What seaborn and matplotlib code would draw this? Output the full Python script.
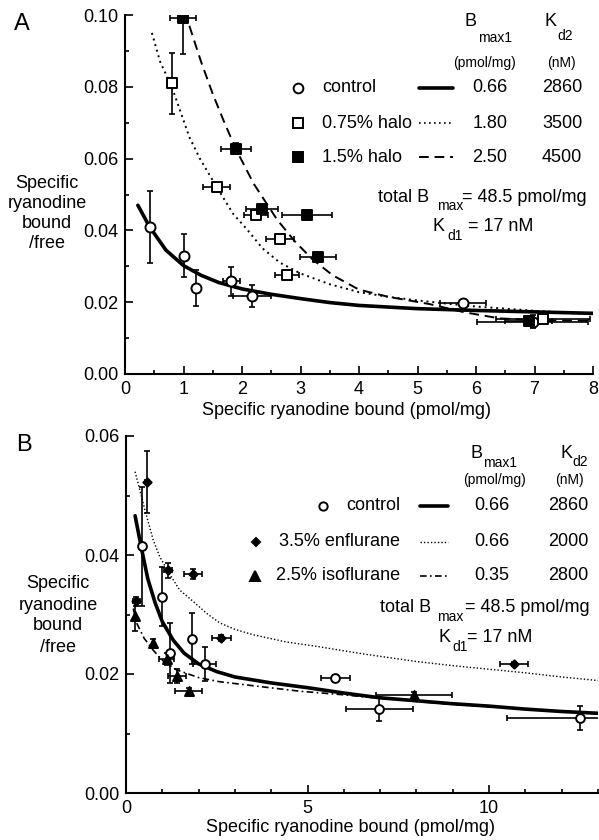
import numpy as np
import pandas as pd
import seaborn as sns
import matplotlib.pyplot as plt
from matplotlib.lines import Line2D
from matplotlib.ticker import MultipleLocator, FormatStrFormatter

# ---- panel A data: points (x, y, x error, y error) ----
ctrl_a_x = [0.42, 1.0, 1.21, 1.82, 2.17, 5.78, 6.97]
ctrl_a_y = [0.041, 0.033, 0.0239, 0.0258, 0.0217, 0.0197, 0.0146]
ctrl_a_xerr = [0, 0, 0, 0.15, 0.33, 0.39, 0.95]
ctrl_a_yerr = [0.010, 0.006, 0.005, 0.004, 0.003, 0.0, 0.0018]

h075_x = [0.80, 1.57, 2.24, 2.65, 2.77, 7.15]
h075_y = [0.081, 0.052, 0.0444, 0.0377, 0.0276, 0.0152]
h075_xerr = [0, 0.23, 0.2, 0.24, 0.2, 0.8]
h075_yerr = [0.0085, 0.0012, 0.001, 0.0008, 0.0006, 0.0006]

h15_x = [0.99, 1.90, 2.34, 3.11, 3.30, 6.90]
h15_y = [0.0992, 0.0628, 0.046, 0.0442, 0.0325, 0.0147]
h15_xerr = [0.22, 0.26, 0.28, 0.43, 0.31, 0.4]
h15_yerr = [0.010, 0.0015, 0.0012, 0.0005, 0.0008, 0.0008]

# ---- panel A fitted curves ----
fit_ctrl_a_x = [0.22, 0.42, 0.7, 1.0, 1.3, 1.6, 2.0, 2.5, 3.0, 3.5, 4.0, 5.0, 6.0, 7.0, 8.0]
fit_ctrl_a_y = [0.047, 0.041, 0.0345, 0.0302, 0.0275, 0.0255, 0.0237, 0.0222, 0.021, 0.0199,
                0.0191, 0.0182, 0.0177, 0.0173, 0.0169]
fit_h075_x = [0.46, 0.6, 0.8, 0.95, 1.1, 1.28, 1.57, 1.85, 2.1, 2.35, 2.65, 3.0, 3.5, 4.0,
              4.5, 5.0, 5.5, 6.0, 7.0, 8.0]
fit_h075_y = [0.095, 0.087, 0.080, 0.073, 0.066, 0.060, 0.052, 0.0446, 0.040, 0.035, 0.031,
              0.028, 0.025, 0.0228, 0.0215, 0.0205, 0.0196, 0.0188, 0.0176, 0.0166]
fit_h15_x = [1.1, 1.3, 1.5, 1.7, 1.9, 2.2, 2.6, 2.9, 3.2, 3.55, 4.0, 4.5, 5.2, 5.8, 6.4, 7.0, 8.0]
fit_h15_y = [0.097, 0.087, 0.078, 0.070, 0.0625, 0.053, 0.043, 0.037, 0.032, 0.0275, 0.0235,
             0.0215, 0.0195, 0.0172, 0.0155, 0.0150, 0.0148]

# ---- panel B data ----
ctrl_b_x = [0.43, 0.99, 1.21, 1.81, 2.17, 5.77, 6.98, 12.5]
ctrl_b_y = [0.0415, 0.033, 0.0235, 0.0259, 0.0217, 0.0194, 0.0141, 0.0126]
ctrl_b_xerr = [0, 0, 0, 0, 0.32, 0.4, 0.92, 2.0]
ctrl_b_yerr = [0.010, 0.005, 0.005, 0.0043, 0.0029, 0.0005, 0.002, 0.002]

enf_x = [0.28, 0.57, 1.16, 1.85, 2.63, 10.69]
enf_y = [0.0322, 0.0523, 0.0374, 0.0368, 0.0261, 0.0217]
enf_xerr = [0.1, 0.05, 0.12, 0.24, 0.25, 0.39]
enf_yerr = [0.0008, 0.0052, 0.0013, 0.0008, 0.0005, 0.0004]

iso_x = [0.25, 0.73, 1.12, 1.41, 1.73, 7.94]
iso_y = [0.0297, 0.0252, 0.0225, 0.0197, 0.0172, 0.0165]
iso_xerr = [0, 0, 0.21, 0.25, 0.37, 1.05]
iso_yerr = [0.0025, 0.0007, 0.001, 0.0012, 0.0005, 0.0004]

fit_ctrl_b_x = [0.25, 0.43, 0.6, 0.8, 1.0, 1.3, 1.6, 2.0, 2.5, 3.0, 4.0, 5.0, 6.0, 7.0, 8.0,
                9.0, 10.0, 11.0, 12.0, 13.0]
fit_ctrl_b_y = [0.0466, 0.041, 0.036, 0.032, 0.0288, 0.0257, 0.0235, 0.0217, 0.0204, 0.0195,
                0.0185, 0.0177, 0.0168, 0.016, 0.0155, 0.015, 0.0146, 0.0141, 0.0137, 0.0134]
fit_enf_x = [0.25, 0.52, 0.75, 0.93, 1.2, 1.48, 1.85, 2.22, 2.58, 3.0, 3.5, 4.4, 5.3, 6.5,
             8.0, 9.0, 10.0, 11.0, 12.0, 13.0]
fit_enf_y = [0.054, 0.0476, 0.0425, 0.0397, 0.0368, 0.0341, 0.0322, 0.0302, 0.0286, 0.0275,
             0.0266, 0.0254, 0.0246, 0.0234, 0.0221, 0.0214, 0.0208, 0.0202, 0.0195, 0.0189]
fit_iso_x = [0.2, 0.29, 0.5, 0.75, 1.0, 1.39, 2.0, 2.58, 3.68, 4.8, 6.0, 7.0, 8.0, 9.0, 10.0,
             11.0, 12.0, 13.0]
fit_iso_y = [0.031, 0.0286, 0.026, 0.024, 0.0223, 0.0207, 0.0194, 0.0187, 0.0179, 0.0171,
             0.0165, 0.0159, 0.0154, 0.0149, 0.0145, 0.0141, 0.0137, 0.0133]

# legend table text
rows_a = ["control", "0.75% halo", "1.5% halo"]
bmax_a = ["0.66", "1.80", "2.50"]
kd2_a = ["2860", "3500", "4500"]
rows_b = ["control", "3.5% enflurane", "2.5% isoflurane"]
bmax_b = ["0.66", "0.66", "0.35"]
kd2_b = ["2860", "2000", "2800"]
ylab_lines = ["Specific", "ryanodine", "bound", "/free"]

sns.set_theme(style="ticks")
plt.rcParams['font.family'] = ['Liberation Sans', 'DejaVu Sans']
plt.rcParams['axes.linewidth'] = 1.5
plt.rcParams['axes.edgecolor'] = 'black'
plt.rcParams['xtick.color'] = 'black'
plt.rcParams['ytick.color'] = 'black'

W, H = 599, 840
fig = plt.figure(figsize=(W / 100, H / 100), dpi=100)


def px(x, y):
    return x / W, 1 - y / H


def label(x, y, s, size=13, ha='center', va='center', **kw):
    fig.text(*px(x, y), s, fontsize=size, ha=ha, va=va, color='black', **kw)


def sample_line(x1, x2, y, **kw):
    fig.add_artist(Line2D([x1 / W, x2 / W], [1 - y / H] * 2, transform=fig.transFigure,
                          color='black', **kw))


def sample_marker(x, y, marker, face, ms):
    fig.add_artist(Line2D([x / W], [1 - y / H], transform=fig.transFigure, marker=marker,
                          ms=ms, mfc=face, mec='black', mew=1.4, ls='none'))


def points(ax, x, y, xerr, yerr, marker, face, size):
    ax.errorbar(x, y, xerr=xerr, yerr=yerr, fmt='none', ecolor='black', elinewidth=1.2,
                capsize=2.5, capthick=1.2, zorder=3)
    sns.scatterplot(x=x, y=y, ax=ax, marker=marker, s=size, color=face, edgecolor='black',
                    linewidth=1.4, zorder=5, legend=False)


def curve(ax, x, y, **kw):
    sns.lineplot(x=x, y=y, ax=ax, color='black', sort=False, estimator=None, zorder=4, **kw)


def style_axes(ax):
    sns.despine(ax=ax)
    ax.tick_params(which='both', direction='in', labelsize=13, width=1.2)
    ax.tick_params(which='major', length=6, pad=5)
    ax.tick_params(which='minor', length=3)
    ax.set_xlabel("")
    ax.set_ylabel("")
    ax.yaxis.set_major_formatter(FormatStrFormatter('%.2f'))


def ylabel_block(xc, y0, pitch=20):
    for i, s in enumerate(ylab_lines):
        label(xc, y0 + i * pitch, s)


# ---------------- panel A ----------------
ax1 = fig.add_axes([125 / W, 1 - 374 / H, (593 - 125) / W, (374 - 15) / H])
curve(ax1, fit_ctrl_a_x, fit_ctrl_a_y, linewidth=2.6)
curve(ax1, fit_h075_x, fit_h075_y, linewidth=1.4, linestyle=(0, (1, 2)))
curve(ax1, fit_h15_x, fit_h15_y, linewidth=1.4, linestyle=(0, (5, 3)))
points(ax1, ctrl_a_x, ctrl_a_y, ctrl_a_xerr, ctrl_a_yerr, 'o', 'white', 52)
points(ax1, h075_x, h075_y, h075_xerr, h075_yerr, 's', 'white', 52)
points(ax1, h15_x, h15_y, h15_xerr, h15_yerr, 's', 'black', 52)
ax1.set_xlim(0, 8)
ax1.set_ylim(0, 0.10)
ax1.xaxis.set_major_locator(MultipleLocator(1))
ax1.xaxis.set_minor_locator(MultipleLocator(0.5))
ax1.yaxis.set_major_locator(MultipleLocator(0.02))
ax1.yaxis.set_minor_locator(MultipleLocator(0.01))
style_axes(ax1)

label(14, 24, "A", size=17, ha='left')
ylabel_block(47, 183)
label(347, 410, "Specific ryanodine bound (pmol/mg)", size=13)

label(465, 21, "B", ha='left')
label(478, 38, "max1", size=10, ha='left')
label(484, 63, "(pmol/mg)", size=10)
label(545, 21, "K", ha='left')
label(557, 36, "d2", size=10, ha='left')
label(561, 63, "(nM)", size=10)
row_y_a = [88, 123, 157]
sample_marker(298, row_y_a[0], 'o', 'white', 7)
sample_marker(298, row_y_a[1], 's', 'white', 7)
sample_marker(298, row_y_a[2], 's', 'black', 7)
sample_line(419, 453, row_y_a[0], lw=2.6)
sample_line(419, 453, row_y_a[1], lw=1.2, ls=(0, (1, 2)))
sample_line(419, 453, row_y_a[2], lw=1.4, ls=(0, (5, 3)))
for yy, name, b, k in zip(row_y_a, rows_a, bmax_a, kd2_a):
    label(322, yy, name, ha='left')
    label(490, yy, b)
    label(562, yy, k)
label(378, 197, "total B", ha='left')
label(437, 206, "max", size=10, ha='left')
label(587, 197, "= 48.5 pmol/mg", ha='right')
label(433, 227, "K", ha='left')
label(447, 236, "d1", size=10, ha='left')
label(533, 227, "= 17 nM", ha='right')

# ---------------- panel B ----------------
ax2 = fig.add_axes([126 / W, 1 - 793 / H, (598 - 126) / W, (793 - 436) / H])
curve(ax2, fit_ctrl_b_x, fit_ctrl_b_y, linewidth=2.6)
curve(ax2, fit_enf_x, fit_enf_y, linewidth=1.0, linestyle=(0, (1, 1.5)))
curve(ax2, fit_iso_x, fit_iso_y, linewidth=1.2, linestyle=(0, (4, 2, 1, 2)))
points(ax2, ctrl_b_x, ctrl_b_y, ctrl_b_xerr, ctrl_b_yerr, 'o', 'white', 40)
points(ax2, enf_x, enf_y, enf_xerr, enf_yerr, 'D', 'black', 18)
points(ax2, iso_x, iso_y, iso_xerr, iso_yerr, '^', 'black', 42)
ax2.set_xlim(0, 13)
ax2.set_ylim(0, 0.06)
ax2.xaxis.set_major_locator(MultipleLocator(5))
ax2.xaxis.set_minor_locator(MultipleLocator(1))
ax2.yaxis.set_major_locator(MultipleLocator(0.02))
ax2.yaxis.set_minor_locator(MultipleLocator(0.01))
style_axes(ax2)

label(16, 445, "B", size=17, ha='left')
ylabel_block(58, 584, pitch=21)
label(351, 827, "Specific ryanodine bound (pmol/mg)", size=13)

label(470, 453, "B", ha='left')
label(483, 463, "max1", size=10, ha='left')
label(494, 480, "(pmol/mg)", size=10)
label(560, 453, "K", ha='left')
label(572, 462, "d2", size=10, ha='left')
label(569, 480, "(nM)", size=10)
row_y_b = [506, 542, 576]
sample_marker(323, row_y_b[0], 'o', 'white', 6)
sample_marker(256, row_y_b[1], 'D', 'black', 4.5)
sample_marker(255, row_y_b[2], '^', 'black', 7)
sample_line(420, 448, row_y_b[0], lw=2.6)
sample_line(420, 448, row_y_b[1], lw=1.0, ls=(0, (1, 1.5)))
sample_line(420, 448, row_y_b[2], lw=1.2, ls=(0, (4, 2, 1, 2)))
for yy, name, b, k in zip(row_y_b, rows_b, bmax_b, kd2_b):
    label(400, yy, name, ha='right')
    label(492, yy, b)
    label(568, yy, k)
label(380, 608, "total B", ha='left')
label(437, 617, "max", size=10, ha='left')
label(590, 608, "= 48.5 pmol/mg", ha='right')
label(439, 638, "K", ha='left')
label(452, 647, "d1", size=10, ha='left')
label(532, 638, "= 17 nM", ha='right')

fig.savefig("out.png", dpi=100)
